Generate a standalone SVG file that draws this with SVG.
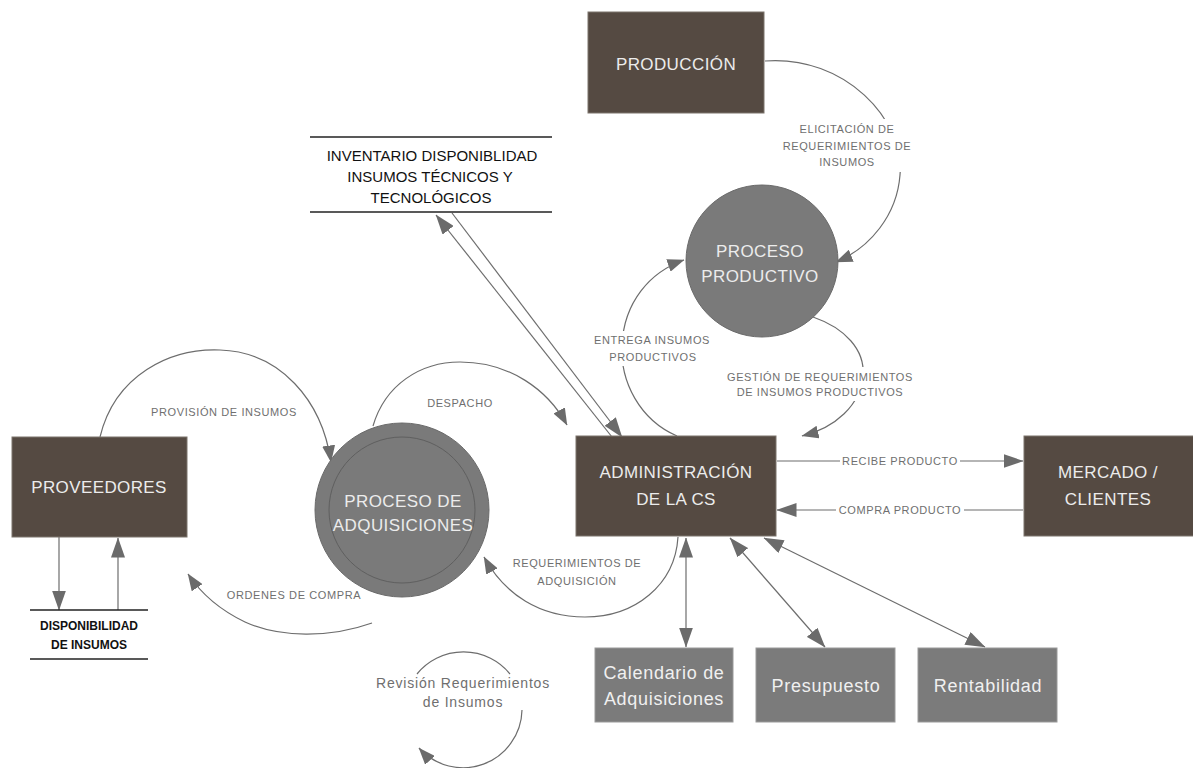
<svg xmlns="http://www.w3.org/2000/svg" width="1193" height="768" viewBox="0 0 1193 768">
  <defs>
    <marker id="arrow" markerUnits="userSpaceOnUse" viewBox="0 0 20 14" markerWidth="20" markerHeight="14" refX="19.5" refY="7" orient="auto-start-reverse">
      <path d="M0,0 L20,7 L0,14 z" fill="#6b6b6b"/>
    </marker>
    <marker id="arrow-s" markerUnits="userSpaceOnUse" viewBox="0 0 17 13" markerWidth="17" markerHeight="13" refX="16.5" refY="6.5" orient="auto">
      <path d="M0,0 L17,6.5 L0,13 z" fill="#6b6b6b"/>
    </marker>
    <style>
      .flow { fill: none; stroke: #6d6d6d; stroke-width: 1.2; }
      .arr { marker-end: url(#arrow); }
      .arc { marker-end: url(#arrow-s); }
      .both { marker-start: url(#arrow); marker-end: url(#arrow); }
      .lbl { font-family: "Liberation Sans", Arial, sans-serif; font-size: 11px; fill: #6f6f6f; text-anchor: middle; letter-spacing: 0.6px; }
      .lbl2 { font-family: "Liberation Sans", Arial, sans-serif; font-size: 14px; fill: #6f6f6f; text-anchor: middle; letter-spacing: 0.8px; }
      .bg { fill: #ffffff; }
      .entity { fill: #554a42; stroke: #7d746d; stroke-width: 1; }
      .proc { fill: #7a7a7a; stroke: #6a6a6a; stroke-width: 1; }
      .ring { fill: none; stroke: #5f5f5f; stroke-width: 1; }
      .store { stroke: #222; stroke-width: 1.5; }
      .box { fill: #7b7b7b; stroke: #9a9a9a; stroke-width: 1; }
      .ntxt { font-family: "Liberation Sans", Arial, sans-serif; font-size: 17px; fill: #ececec; text-anchor: middle; letter-spacing: 0.4px; }
      .btxt { font-family: "Liberation Sans", Arial, sans-serif; font-size: 18px; fill: #f0f0f0; text-anchor: middle; letter-spacing: 0.7px; }
      .stxt { font-family: "Liberation Sans", Arial, sans-serif; font-size: 15px; fill: #111; text-anchor: middle; }
      .dtxt { font-family: "Liberation Sans", Arial, sans-serif; font-size: 12px; font-weight: bold; fill: #111; text-anchor: middle; }
    </style>
  </defs>

  <rect width="1193" height="768" fill="#ffffff"/>

  <!-- data flows -->
  <g id="connectors">
    <!-- Producción -> Proceso productivo -->
    <path class="flow arc" d="M765,61 C845,55 905,120 900,175 C897,215 870,248 836,262"/>
    <!-- Administración -> Proceso productivo -->
    <path class="flow arc" d="M677,436 C640,420 620,382 622,345 C624,302 650,272 684,260"/>
    <!-- Proceso productivo -> Administración -->
    <path class="flow arc" d="M813,317 C845,328 865,350 863,375 C861,405 835,428 802,436"/>
    <!-- Inventario <-> Administración -->
    <path class="flow arr" d="M612,437 L436,215"/>
    <path class="flow arr" d="M452,213 L622,437"/>
    <!-- Proveedores -> Adquisiciones -->
    <path class="flow arc" d="M100,437 C115,375 170,348 220,350 C280,352 322,400 331,462"/>
    <!-- Adquisiciones -> Administración -->
    <path class="flow arc" d="M373,426 C385,385 420,362 460,362 C510,362 548,390 567,425"/>
    <!-- Adquisiciones -> Proveedores -->
    <path class="flow arc" d="M372,623 C330,638 280,638 245,622 C220,610 200,592 188,574"/>
    <!-- Administración -> Adquisiciones -->
    <path class="flow arc" d="M678,537 C675,585 635,617 585,617 C540,617 505,595 484,557"/>
    <!-- Proveedores <-> Disponibilidad -->
    <path class="flow arr" d="M59,537 L59,610"/>
    <path class="flow arr" d="M118,610 L118,538"/>
    <!-- Administración <-> Mercado -->
    <path class="flow arr" d="M777,461 L1023,461"/>
    <path class="flow arr" d="M1023,510 L777,510"/>
    <!-- Administración <-> tablas -->
    <path class="flow both" d="M686,538 L686,647"/>
    <path class="flow both" d="M730,538 L825,647"/>
    <path class="flow both" d="M764,538 L985,647"/>
    <!-- Revisión loop -->
    <path class="flow" d="M417,674 A60,60 0 0,1 510,674"/>
    <path class="flow arc" d="M522,710 A59,59 0 0,1 419,748"/>

    <!-- flow labels -->
    <rect class="bg" x="785" y="119" width="126" height="53"/>
    <text class="lbl" x="847" y="133">ELICITACIÓN DE</text>
    <text class="lbl" x="847" y="149.5">REQUERIMIENTOS DE</text>
    <text class="lbl" x="847" y="166">INSUMOS</text>

    <rect class="bg" x="593" y="331" width="120" height="35"/>
    <text class="lbl" x="652" y="344">ENTREGA INSUMOS</text>
    <text class="lbl" x="653" y="361">PRODUCTIVOS</text>

    <rect class="bg" x="725" y="367" width="192" height="34"/>
    <text class="lbl" x="820" y="381">GESTIÓN DE REQUERIMIENTOS</text>
    <text class="lbl" x="820" y="396">DE INSUMOS PRODUCTIVOS</text>

    <text class="lbl" x="224" y="416">PROVISIÓN DE INSUMOS</text>
    <text class="lbl" x="460" y="407">DESPACHO</text>
    <text class="lbl" x="294" y="599">ORDENES DE COMPRA</text>
    <text class="lbl" x="577" y="567">REQUERIMIENTOS DE</text>
    <text class="lbl" x="577" y="585">ADQUISICIÓN</text>

    <rect class="bg" x="840" y="454" width="120" height="14"/>
    <text class="lbl" x="900" y="465">RECIBE PRODUCTO</text>
    <rect class="bg" x="836" y="503" width="128" height="14"/>
    <text class="lbl" x="900" y="514">COMPRA PRODUCTO</text>

    <text class="lbl2" x="463" y="688">Revisión Requerimientos</text>
    <text class="lbl2" x="463" y="707">de Insumos</text>
  </g>

  <!-- external entities -->
  <g id="n-produccion">
    <rect class="entity" x="588" y="12" width="176" height="101"/>
    <text class="ntxt" x="676" y="70">PRODUCCIÓN</text>
  </g>
  <g id="n-proveedores">
    <rect class="entity" x="12" y="437" width="175" height="100"/>
    <text class="ntxt" x="99" y="493">PROVEEDORES</text>
  </g>
  <g id="n-administracion">
    <rect class="entity" x="576" y="436" width="200" height="100"/>
    <text class="ntxt" x="676" y="478">ADMINISTRACIÓN</text>
    <text class="ntxt" x="676" y="505">DE LA CS</text>
  </g>
  <g id="n-mercado">
    <rect class="entity" x="1024" y="436" width="175" height="100"/>
    <text class="ntxt" x="1108" y="478">MERCADO /</text>
    <text class="ntxt" x="1108" y="505">CLIENTES</text>
  </g>

  <!-- processes -->
  <g id="n-proceso-productivo">
    <circle class="proc" cx="762" cy="261" r="76"/>
    <text class="ntxt" x="760" y="257">PROCESO</text>
    <text class="ntxt" x="760" y="282">PRODUCTIVO</text>
  </g>
  <g id="n-adquisiciones">
    <circle class="proc" cx="402" cy="510" r="87"/>
    <circle class="ring" cx="402" cy="510" r="73"/>
    <text class="ntxt" x="403" y="507">PROCESO DE</text>
    <text class="ntxt" x="403" y="531">ADQUISICIONES</text>
  </g>

  <!-- data stores -->
  <g id="n-inventario">
    <line class="store" x1="310" y1="137" x2="552" y2="137"/>
    <line class="store" x1="310" y1="212" x2="552" y2="212"/>
    <text class="stxt" x="432" y="160.5">INVENTARIO DISPONIBLIDAD</text>
    <text class="stxt" x="430" y="181.5">INSUMOS TÉCNICOS Y</text>
    <text class="stxt" x="431" y="202.5">TECNOLÓGICOS</text>
  </g>
  <g id="n-disponibilidad">
    <line class="store" x1="30" y1="610" x2="148" y2="610"/>
    <line class="store" x1="30" y1="659" x2="148" y2="659"/>
    <text class="dtxt" x="89" y="630">DISPONIBILIDAD</text>
    <text class="dtxt" x="89" y="649">DE INSUMOS</text>
  </g>

  <!-- reference tables -->
  <g id="n-calendario">
    <rect class="box" x="595" y="648" width="138" height="74"/>
    <text class="btxt" x="664" y="679">Calendario de</text>
    <text class="btxt" x="664" y="705">Adquisiciones</text>
  </g>
  <g id="n-presupuesto">
    <rect class="box" x="756" y="648" width="139" height="74"/>
    <text class="btxt" x="826" y="692">Presupuesto</text>
  </g>
  <g id="n-rentabilidad">
    <rect class="box" x="918" y="648" width="139" height="74"/>
    <text class="btxt" x="988" y="692">Rentabilidad</text>
  </g>
</svg>
